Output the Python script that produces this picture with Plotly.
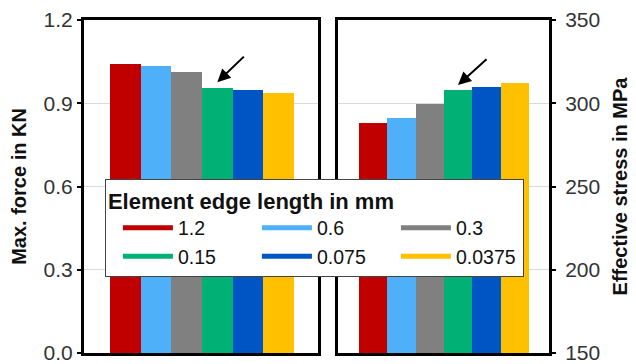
import plotly.graph_objects as go

sizes = ["1.2", "0.6", "0.3", "0.15", "0.075", "0.0375"]
colors = ["#C00000", "#4DB0F8", "#808080", "#00B074", "#0055C4", "#FFC000"]
max_force = [1.041, 1.034, 1.012, 0.956, 0.948, 0.937]
eff_stress = [288.3, 291.3, 299.4, 308.0, 310.0, 312.0]
force_ticks = [0.0, 0.3, 0.6, 0.9, 1.2]
stress_ticks = [150, 200, 250, 300, 350]

FONT = "Liberation Sans, Arial, sans-serif"
idx = list(range(len(sizes)))

fig = go.Figure()
fig.add_trace(go.Bar(x=idx, y=max_force, marker=dict(color=colors, line=dict(width=0)),
                     xaxis="x", yaxis="y", showlegend=False, width=1))
fig.add_trace(go.Bar(x=idx, y=eff_stress, marker=dict(color=colors, line=dict(width=0)),
                     xaxis="x2", yaxis="y2", showlegend=False, width=1))
for s, c in zip(sizes, colors):
    fig.add_trace(go.Scatter(x=[None], y=[None], mode="lines", name=s,
                             line=dict(color=c, width=5), xaxis="x", yaxis="y"))

axis_line = dict(showline=True, linecolor="black", linewidth=3, mirror=True, automargin=False)
fig.update_layout(
    width=636, height=364,
    margin=dict(l=84, r=87, t=20, b=11),
    paper_bgcolor="white", plot_bgcolor="white",
    font=dict(family=FONT, color="#222", size=20),
    bargap=0,
    xaxis=dict(domain=[0, 0.503], range=[-1.35, 6.28], showticklabels=False,
               showgrid=False, zeroline=False, ticks="", **axis_line),
    xaxis2=dict(domain=[0.546, 1], range=[-1.24, 6.21], showticklabels=False,
                showgrid=False, zeroline=False, ticks="", anchor="y2", **axis_line),
    yaxis=dict(range=[0, 1.2], tickvals=force_ticks, tickformat=".1f",
               ticks="outside", ticklen=4, tickwidth=2, tickcolor="black",
               showgrid=True, gridcolor="#D9D9D9", gridwidth=1, zeroline=False,
               tickfont=dict(size=21, color="#333"), ticklabeloverflow="allow",
               title=dict(text="<b>Max. force in KN</b>", font=dict(size=20, color="#111"), standoff=12),
               anchor="x", **axis_line),
    yaxis2=dict(range=[150, 350], tickvals=stress_ticks, side="right",
                ticks="outside", ticklen=4, tickwidth=2, tickcolor="black",
                showgrid=True, gridcolor="#D9D9D9", gridwidth=1, zeroline=False,
                tickfont=dict(size=21, color="#333"), ticklabeloverflow="allow",
                ticklabelstandoff=5,
                title=dict(text="<b>Effective stress in MPa</b>", font=dict(size=20, color="#111"), standoff=14),
                anchor="x2", **axis_line),
    legend=dict(orientation="h", x=0.045, xanchor="left", y=0.5225, yanchor="top",
                bgcolor="white", bordercolor="#444", borderwidth=1,
                font=dict(size=19.5, color="#111"), itemwidth=50, tracegroupgap=0,
                indentation=12, entrywidth=62,
                title=dict(text="<b>Element edge length in mm</b>", side="top",
                           font=dict(size=22, color="#111"))),
)

fig.add_annotation(x=3, y=max_force[3] + 0.02, xref="x", yref="y", ax=28, ay=-27,
                   showarrow=True, arrowhead=2, arrowsize=1.3, arrowwidth=2, arrowcolor="black", text="")
fig.add_annotation(x=3, y=eff_stress[3] + 3, xref="x2", yref="y2", ax=30, ay=-27,
                   showarrow=True, arrowhead=2, arrowsize=1.3, arrowwidth=2, arrowcolor="black", text="")

fig.write_html("out.html")
